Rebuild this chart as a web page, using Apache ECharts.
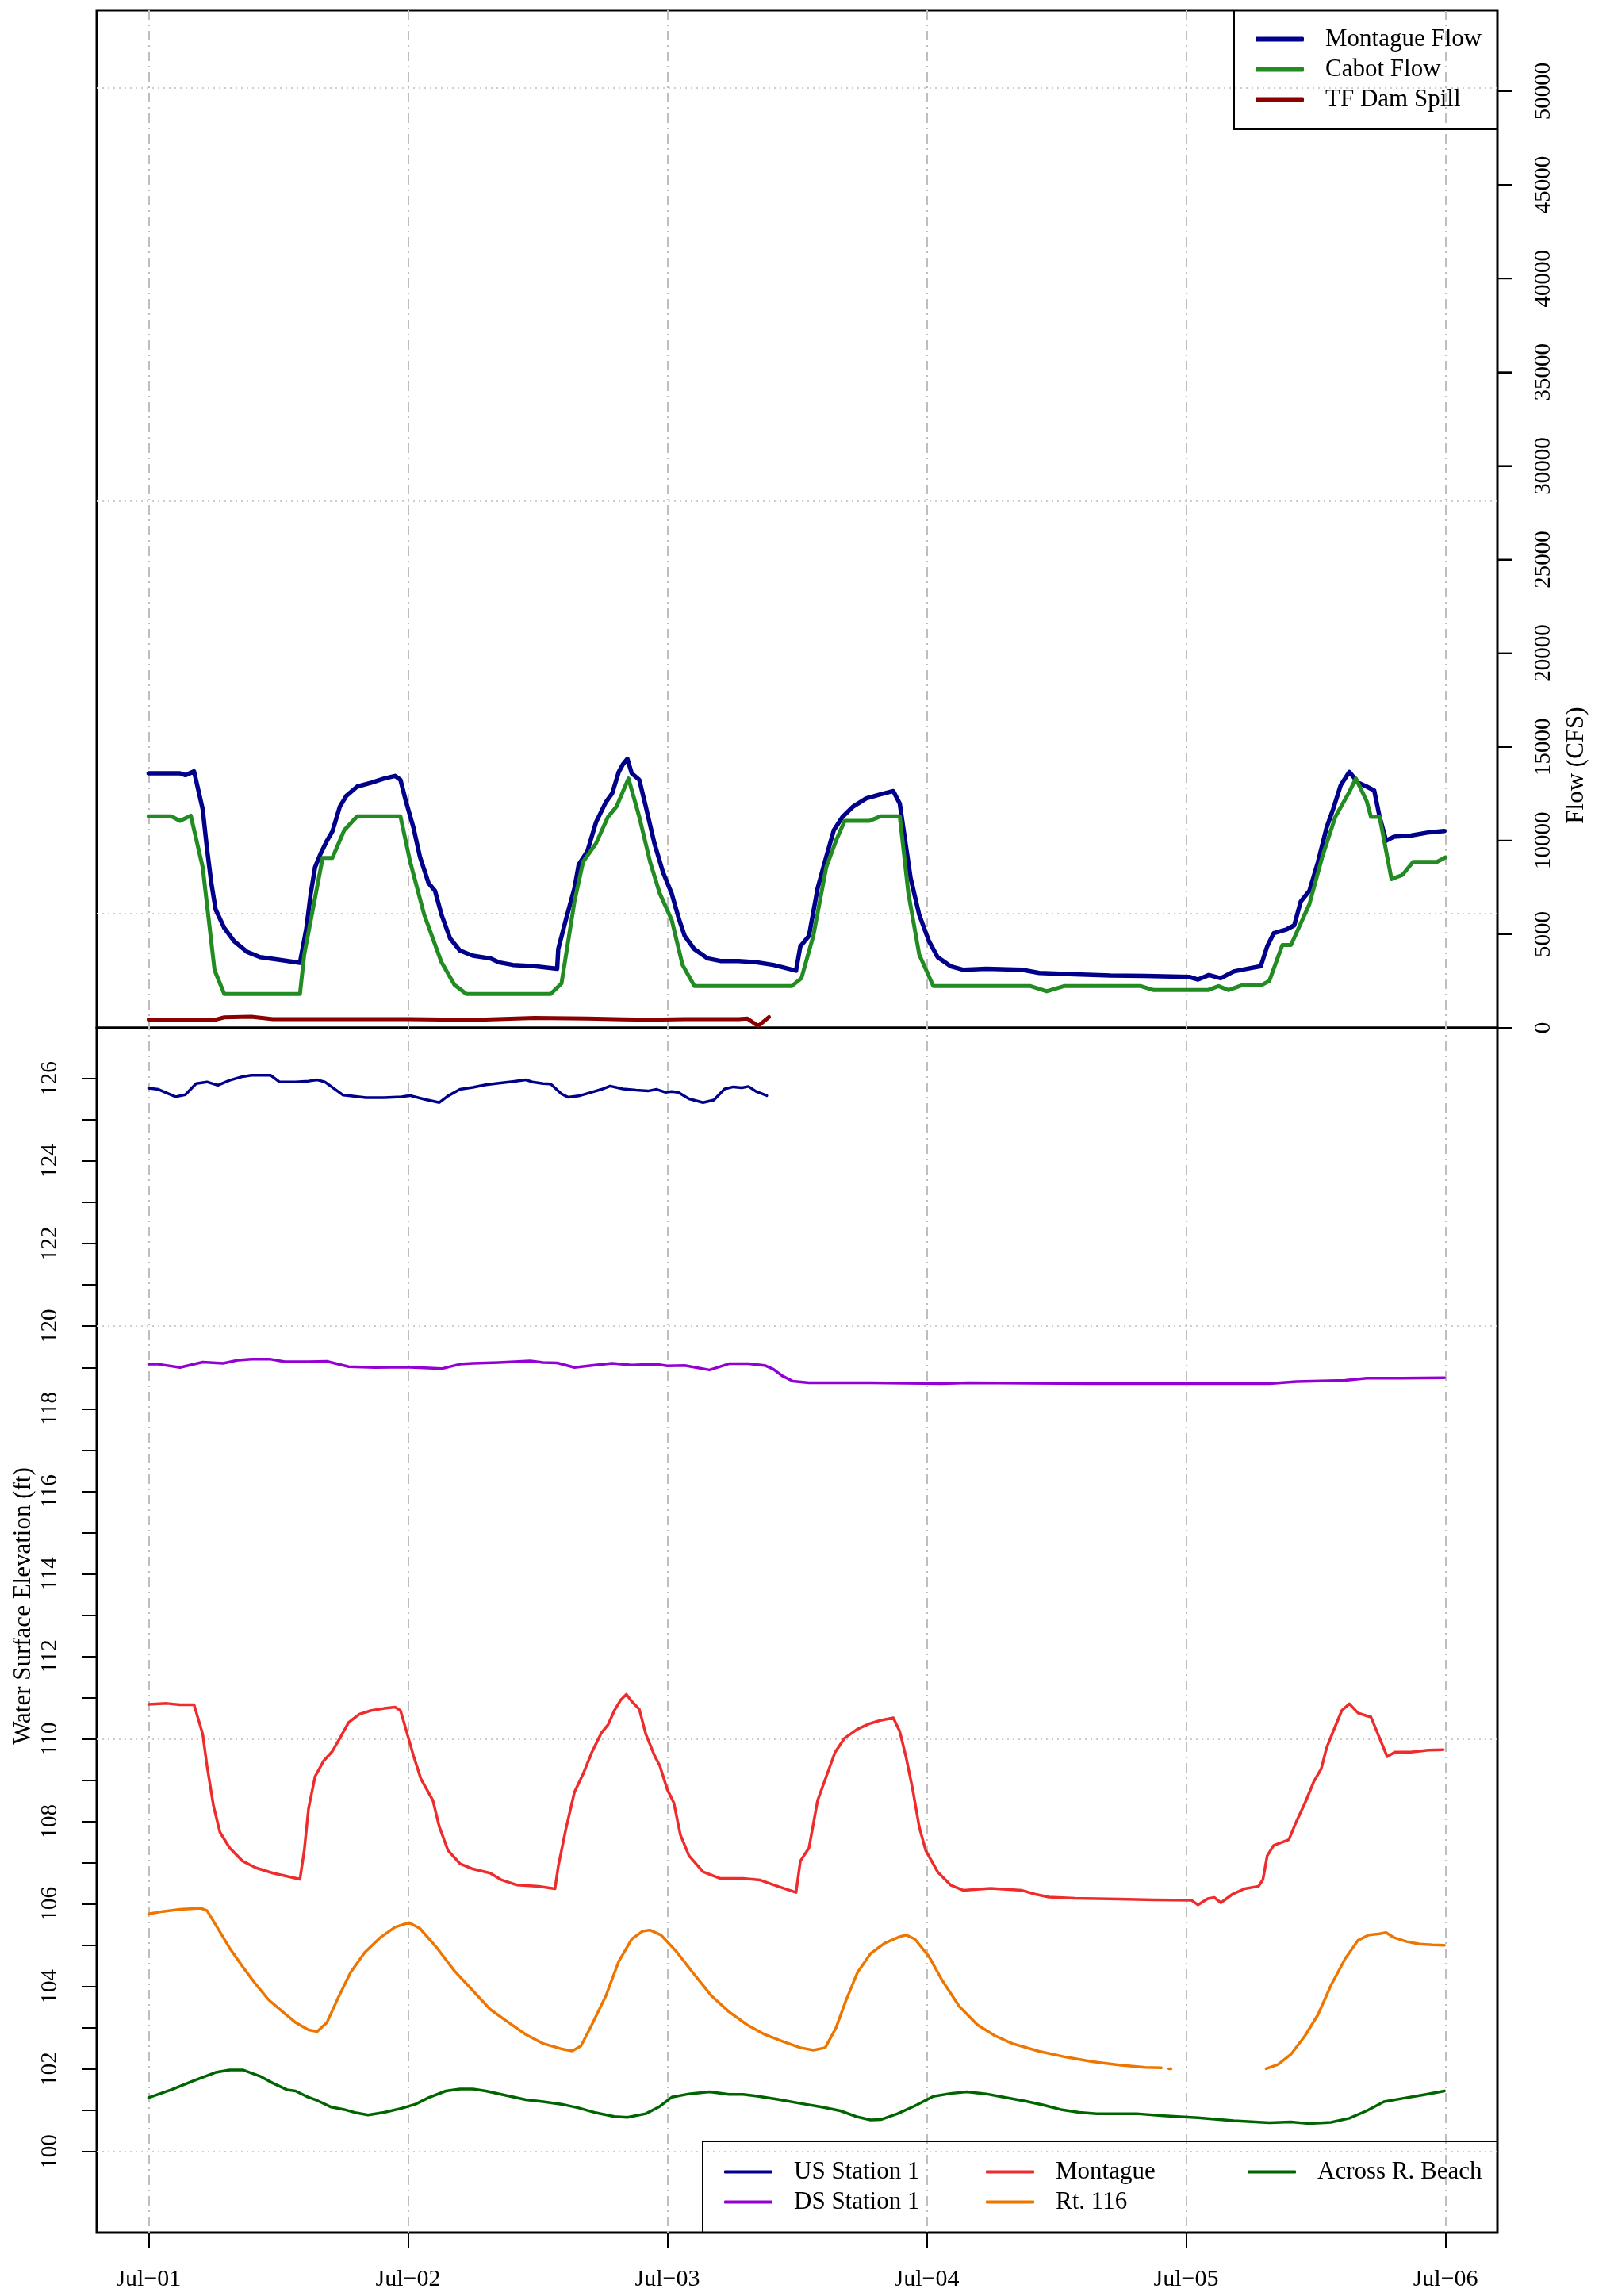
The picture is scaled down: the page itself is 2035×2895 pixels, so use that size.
<!DOCTYPE html>
<html>
<head>
<meta charset="utf-8">
<script src="https://cdn.jsdelivr.net/npm/echarts@6/dist/echarts.min.js"></script>
<style>
html,body{margin:0;padding:0;background:#fff;}
#chart{width:2035px;height:2895px;}
</style>
</head>
<body>
<div id="chart"></div>
<script>
// ---------------- DATA (hours since Jul-01 00:00, value) ----------------
const dayLabels = ['Jul\u221201','Jul\u221202','Jul\u221203','Jul\u221204','Jul\u221205','Jul\u221206'];
const flowTicks = [0,5000,10000,15000,20000,25000,30000,35000,40000,45000,50000];

const montagueFlow = [[0,13590],[2.9,13590],[3.4,13490],[4.2,13690],[5.0,11680],[5.4,9570],[5.8,7730],[6.2,6320],[7.0,5330],[7.9,4630],[9.1,4060],[10.3,3780],[12.0,3640],[14.0,3470],[14.6,5330],[15.0,7170],[15.4,8580],[15.9,9280],[16.5,9990],[17.0,10480],[17.7,11820],[18.3,12390],[19.3,12880],[20.6,13090],[21.8,13310],[22.8,13450],[23.3,13240],[23.8,12110],[24.5,10700],[25.1,9140],[25.9,7730],[26.5,7310],[27.1,6040],[27.9,4770],[28.8,4130],[30.0,3850],[31.6,3710],[32.4,3500],[33.7,3360],[35.7,3290],[37.8,3150],[37.9,4200],[38.6,5760],[39.4,7450],[39.8,8720],[40.6,9430],[41.4,10980],[42.3,12040],[42.9,12530],[43.5,13660],[43.9,14080],[44.3,14360],[44.7,13590],[45.4,13240],[46.0,11820],[46.8,9850],[47.6,8300],[48.4,7170],[49.1,5760],[49.6,4910],[50.5,4200],[51.7,3710],[52.9,3570],[54.6,3570],[56.2,3500],[57.8,3360],[59.9,3050],[60.3,4350],[61.1,4910],[61.9,7450],[62.7,9140],[63.4,10550],[64.2,11260],[65.2,11820],[66.4,12250],[67.7,12460],[68.9,12640],[69.5,11970],[70.0,9990],[70.5,8010],[71.3,6040],[72.2,4630],[73.0,3780],[74.2,3290],[75.4,3100],[77.5,3150],[80.8,3100],[82.4,2930],[85.7,2860],[89.0,2790],[92.2,2770],[96.3,2720],[97.1,2580],[98.1,2820],[99.2,2650],[100.4,3010],[101.6,3150],[102.9,3290],[103.5,4350],[104.1,5050],[105.3,5260],[106.0,5470],[106.6,6740],[107.4,7310],[108.2,8860],[109.0,10700],[109.6,11680],[110.3,12950],[111.1,13660],[111.9,13090],[112.7,12880],[113.4,12670],[113.9,11260],[114.5,9990],[115.2,10200],[116.8,10270],[118.5,10440],[119.9,10510]];

const cabotFlow = [[0,11290],[2.1,11290],[2.9,11050],[3.9,11330],[5.0,8580],[6.1,3080],[7.0,1810],[14.0,1810],[14.4,3920],[16.1,9070],[17.0,9070],[18.1,10550],[19.3,11290],[23.3,11290],[24.2,8860],[25.5,6040],[27.1,3500],[28.3,2300],[29.4,1810],[37.2,1810],[38.2,2370],[39.4,6740],[40.2,8860],[41.4,9850],[42.5,11260],[43.3,11820],[44.4,13310],[45.4,11260],[46.4,8860],[47.3,7170],[48.4,5760],[49.4,3360],[50.5,2230],[59.5,2230],[60.4,2650],[61.5,4910],[62.7,8580],[63.6,9990],[64.4,11050],[66.7,11050],[67.7,11290],[69.5,11290],[70.3,7170],[71.3,3920],[72.6,2230],[81.6,2230],[83.1,1950],[84.7,2230],[91.8,2230],[93.0,2020],[98.0,2020],[99.0,2230],[99.9,2020],[101.1,2260],[102.9,2260],[103.7,2510],[104.9,4420],[105.7,4420],[107.4,6600],[108.6,9140],[109.8,11260],[111.1,12600],[111.7,13310],[112.7,12110],[113.1,11260],[113.9,11260],[115.0,7940],[116.0,8160],[117.0,8860],[119.2,8860],[120.0,9100]];

const tfDamSpill = [[0,440],[6.2,440],[7.0,560],[9.5,590],[11.5,470],[24.2,470],[30.0,420],[35.7,530],[40.6,500],[43.9,450],[46.4,430],[49.6,470],[54.6,470],[55.4,500],[56.4,100],[57.4,580]];

const usStation1 = [[0,125.77],[0.9,125.74],[2.5,125.56],[3.4,125.61],[4.4,125.88],[5.4,125.92],[6.4,125.84],[7.5,125.96],[8.7,126.05],[9.5,126.08],[11.3,126.08],[12.1,125.92],[13.6,125.92],[14.8,125.94],[15.6,125.97],[16.3,125.92],[18.0,125.60],[18.7,125.58],[20.1,125.54],[21.8,125.54],[23.4,125.56],[24.2,125.59],[25.5,125.50],[26.9,125.42],[27.7,125.58],[28.8,125.74],[30.0,125.79],[31.2,125.85],[32.4,125.89],[33.7,125.93],[34.9,125.97],[35.5,125.92],[36.5,125.88],[37.2,125.87],[38.2,125.63],[38.8,125.55],[39.8,125.58],[41.0,125.67],[41.9,125.74],[42.7,125.82],[43.9,125.75],[45.1,125.72],[46.2,125.70],[47.0,125.74],[47.8,125.67],[48.4,125.69],[49.0,125.67],[50.0,125.51],[51.3,125.42],[52.3,125.48],[53.3,125.75],[54.1,125.80],[54.9,125.78],[55.5,125.81],[56.2,125.69],[57.2,125.59]];

const dsStation1 = [[0,119.08],[0.9,119.08],[2.9,119.00],[5.0,119.13],[6.9,119.10],[8.3,119.18],[9.5,119.20],[11.3,119.20],[12.6,119.14],[14.8,119.14],[16.5,119.15],[18.5,119.02],[21.0,119.00],[23.8,119.01],[25.5,118.99],[27.1,118.97],[28.8,119.08],[30.0,119.10],[32.4,119.12],[35.3,119.16],[36.5,119.12],[37.8,119.11],[39.4,119.00],[41.0,119.05],[42.9,119.10],[44.7,119.06],[47.0,119.08],[48.0,119.04],[49.6,119.05],[51.9,118.94],[53.7,119.09],[55.5,119.09],[57.0,119.05],[57.8,118.96],[58.6,118.80],[59.6,118.67],[61.1,118.63],[66.8,118.63],[73.4,118.61],[75.8,118.63],[87.3,118.61],[103.7,118.61],[106.2,118.66],[110.7,118.69],[112.7,118.74],[116.0,118.74],[119.9,118.75]];

const montagueElev = [[0,110.84],[1.7,110.86],[2.9,110.83],[4.2,110.83],[5.0,110.12],[5.4,109.35],[6.0,108.38],[6.6,107.74],[7.5,107.36],[8.7,107.04],[9.9,106.88],[11.5,106.75],[14.0,106.60],[14.4,107.30],[14.8,108.32],[15.4,109.09],[16.2,109.47],[17.0,109.70],[17.7,110.02],[18.5,110.40],[19.5,110.60],[20.6,110.69],[21.8,110.74],[22.8,110.77],[23.3,110.69],[23.8,110.24],[24.5,109.60],[25.2,109.03],[26.3,108.51],[26.9,107.87],[27.7,107.30],[28.8,106.98],[30.0,106.85],[31.6,106.75],[32.6,106.59],[34.1,106.46],[36.1,106.43],[37.6,106.37],[37.9,106.91],[38.6,107.81],[39.4,108.71],[40.2,109.15],[41.0,109.67],[41.9,110.15],[42.5,110.34],[43.1,110.69],[43.7,110.95],[44.2,111.08],[44.7,110.91],[45.4,110.72],[46.0,110.12],[46.8,109.60],[47.3,109.35],[48.0,108.77],[48.6,108.45],[49.2,107.68],[50.0,107.17],[51.3,106.78],[52.9,106.62],[55.0,106.62],[56.6,106.58],[58.2,106.43],[59.9,106.28],[60.3,107.04],[61.1,107.36],[61.9,108.51],[62.7,109.09],[63.5,109.67],[64.4,110.02],[65.6,110.24],[66.7,110.37],[67.7,110.45],[68.9,110.51],[69.5,110.18],[70.1,109.54],[70.7,108.77],[71.3,107.87],[71.9,107.30],[73.0,106.78],[74.2,106.46],[75.4,106.33],[77.9,106.38],[80.8,106.33],[82.0,106.24],[83.3,106.17],[85.7,106.14],[89.8,106.12],[93.0,106.10],[96.5,106.09],[97.1,105.98],[98.0,106.13],[98.6,106.16],[99.2,106.03],[100.3,106.24],[101.4,106.37],[102.7,106.43],[103.1,106.59],[103.5,107.17],[104.1,107.42],[105.5,107.56],[106.2,108.00],[107.0,108.45],[107.8,108.96],[108.5,109.28],[109.0,109.79],[109.6,110.18],[110.4,110.69],[111.1,110.85],[111.9,110.63],[112.7,110.56],[113.1,110.53],[113.9,110.02],[114.6,109.57],[115.3,109.68],[116.8,109.68],[118.4,109.73],[119.8,109.74]];

const rt116Elev = [[0,105.76],[1.3,105.82],[2.9,105.87],[4.8,105.90],[5.4,105.84],[6.2,105.50],[7.5,104.93],[8.7,104.48],[9.9,104.06],[11.1,103.68],[12.4,103.39],[13.6,103.13],[14.8,102.95],[15.6,102.91],[16.5,103.13],[17.5,103.71],[18.7,104.35],[20.0,104.83],[21.4,105.18],[22.8,105.44],[24.1,105.55],[25.1,105.41],[26.7,104.93],[28.3,104.38],[30.0,103.90],[31.6,103.45],[33.3,103.13],[34.9,102.84],[36.5,102.62],[38.2,102.49],[39.2,102.44],[40.0,102.56],[41.0,103.07],[42.3,103.77],[43.5,104.61],[44.7,105.15],[45.7,105.34],[46.4,105.37],[47.4,105.25],[48.8,104.86],[50.5,104.29],[52.1,103.77],[53.7,103.39],[55.4,103.07],[57.0,102.84],[58.6,102.68],[60.3,102.52],[61.5,102.46],[62.6,102.52],[63.6,103.00],[64.5,103.65],[65.6,104.35],[66.8,104.80],[68.1,105.05],[69.5,105.21],[70.1,105.25],[70.9,105.15],[72.2,104.73],[73.4,104.16],[75.0,103.52],[76.7,103.07],[78.3,102.81],[79.9,102.62],[82.4,102.43],[84.9,102.29],[87.3,102.18],[89.8,102.10],[92.2,102.04],[93.7,102.03],[94.0,null],[94.4,102.01],[94.6,102.01],[94.8,null],[103.4,102.01],[104.5,102.11],[105.7,102.36],[107.0,102.81],[108.2,103.32],[109.4,104.03],[110.7,104.67],[111.9,105.12],[112.9,105.25],[113.9,105.28],[114.5,105.31],[115.2,105.19],[116.4,105.09],[117.6,105.03],[118.8,105.01],[119.9,105.00]];

const beachElev = [[0,101.31],[2.1,101.50],[4.2,101.72],[6.2,101.92],[7.5,101.98],[8.7,101.98],[10.3,101.83],[11.5,101.66],[12.8,101.50],[13.6,101.47],[14.6,101.34],[15.6,101.24],[16.9,101.08],[18.1,101.02],[19.2,100.94],[20.3,100.89],[21.8,100.95],[23.4,101.05],[24.7,101.15],[25.9,101.31],[27.5,101.47],[28.8,101.52],[30.0,101.52],[31.2,101.47],[33.3,101.35],[34.9,101.26],[36.5,101.21],[38.2,101.15],[39.8,101.06],[41.4,100.94],[43.1,100.85],[44.3,100.83],[46.0,100.92],[47.2,101.08],[48.4,101.32],[50.0,101.40],[51.9,101.45],[53.7,101.39],[55.0,101.39],[56.2,101.35],[58.2,101.27],[60.3,101.17],[62.3,101.08],[64.0,100.99],[65.6,100.84],[66.8,100.77],[67.8,100.78],[69.3,100.92],[70.9,101.11],[72.6,101.34],[74.2,101.41],[75.7,101.45],[77.5,101.40],[79.1,101.32],[81.2,101.22],[82.8,101.13],[84.4,101.02],[86.1,100.95],[87.7,100.92],[89.4,100.92],[91.4,100.92],[93.9,100.87],[97.1,100.82],[100.4,100.75],[103.7,100.70],[105.7,100.72],[107.4,100.68],[109.4,100.71],[111.1,100.81],[112.7,100.99],[114.3,101.21],[116.0,101.29],[118.0,101.38],[119.9,101.47]];

// ---------------- LAYOUT ----------------
const FONT = "'Liberation Serif','Times New Roman',serif";
const plotLeft = 122, plotRight = 1888, plotTop = 13, plotMid = 1296, plotBottom = 2815;
const xMin = -4.8, xMax = 124.8;           // R-style 4% padding around 0..120 h
const flowMax = 54318;
const elevMin = 98.04, elevMax = 127.23;
const plotW = plotRight - plotLeft;
const xPx = h => plotLeft + (h - xMin) / (xMax - xMin) * plotW;
const elevPx = v => plotBottom - (v - elevMin) / (elevMax - elevMin) * (plotBottom - plotMid);
const flowPx = v => plotMid - v / flowMax * (plotMid - plotTop);

const chart = echarts.init(document.getElementById('chart'), null, {renderer:'canvas'});

const tickStyle = {color:'#000', width:2};
const labelBase = {color:'#000', fontFamily:FONT, fontSize:29};
const noLine = {show:false, onZero:false};
const TICK_LEN = 19;

function lineSeries(name, data, color, width, xi, yi) {
  return {
    name, type:'line', data, xAxisIndex:xi, yAxisIndex:yi,
    showSymbol:false, symbol:'none', connectNulls:false, silent:true,
    color, itemStyle:{color},
    lineStyle:{color, width, cap:'round', join:'round'},
    animation:false
  };
}

function flowTickY(v) {
  let y = null;
  try { y = chart.convertToPixel({yAxisIndex:0}, v); } catch (e) { y = null; }
  if (Array.isArray(y)) y = y[1];
  if (typeof y !== 'number' || !isFinite(y) || y < plotTop - 1 || y > plotMid + 1) y = flowPx(v);
  return y;
}

const baseGraphics = [
  {id:'legendBoxTop', type:'rect', shape:{x:1556, y:plotTop, width:plotRight-1556, height:150}, style:{fill:null, stroke:'#000', lineWidth:2}, z:10},
  {id:'legendBoxBottom', type:'rect', shape:{x:886, y:2700, width:plotRight-886, height:plotBottom-2700}, style:{fill:null, stroke:'#000', lineWidth:2}, z:10},
  {id:'titleLeft', type:'text', x:30, y:2025, rotation:Math.PI/2, style:{text:'Water Surface Elevation (ft)', fill:'#000', font:'31px ' + FONT, align:'center', verticalAlign:'middle'}},
  {id:'titleRight', type:'text', x:1988, y:965, rotation:Math.PI/2, style:{text:'Flow (CFS)', fill:'#000', font:'31px ' + FONT, align:'center', verticalAlign:'middle'}}
];

const option = {
  backgroundColor:'#fff',
  animation:false,
  grid:[
    {left:plotLeft, top:plotTop, width:plotW, height:plotMid-plotTop, show:true, borderColor:'#000', borderWidth:3, backgroundColor:'transparent', outerBoundsMode:'none'},
    {left:plotLeft, top:plotMid, width:plotW, height:plotBottom-plotMid, show:true, borderColor:'#000', borderWidth:3, backgroundColor:'transparent', outerBoundsMode:'none'},
    {left:xPx(0), top:plotTop, width:xPx(120)-xPx(0), height:plotBottom-plotTop, outerBoundsMode:'none'},
    {left:plotLeft, top:elevPx(150), width:plotW, height:elevPx(100)-elevPx(150), outerBoundsMode:'none'},
    {left:plotLeft, top:elevPx(126), width:plotW, height:elevPx(100)-elevPx(126), outerBoundsMode:'none'},
    {left:plotLeft, top:flowPx(50000), width:plotW, height:flowPx(0)-flowPx(50000), outerBoundsMode:'none'}
  ],
  xAxis:[
    {gridIndex:0, type:'value', min:xMin, max:xMax, show:false, axisLine:noLine},
    {gridIndex:1, type:'value', min:xMin, max:xMax, show:false, axisLine:noLine},
    {gridIndex:2, type:'value', min:0, max:120, interval:24, position:'bottom',
      axisLine:noLine,
      axisTick:{show:true, inside:false, length:TICK_LEN, lineStyle:tickStyle},
      axisLabel:Object.assign({}, labelBase, {fontSize:30, margin:44, formatter:v => dayLabels[Math.round(v/24)]}),
      splitLine:{show:true, lineStyle:{color:'#BEBEBE', width:2, type:[12,6,2,6]}}},
    {gridIndex:3, type:'value', min:1, max:2, show:false, axisLine:noLine},
    {gridIndex:4, type:'value', min:0, max:1, show:false, axisLine:noLine},
    {gridIndex:5, type:'value', min:1, max:2, show:false}
  ],
  yAxis:[
    {gridIndex:0, type:'value', min:0, max:flowMax, show:false, axisLine:noLine},
    {gridIndex:1, type:'value', min:elevMin, max:elevMax, show:false, axisLine:noLine},
    {gridIndex:2, type:'value', min:0, max:1, show:false, axisLine:noLine},
    {gridIndex:3, type:'value', min:100, max:150, interval:10,
      axisLine:noLine, axisTick:{show:false}, axisLabel:{show:false},
      splitLine:{show:true, lineStyle:{color:'#CDCDCD', width:2, type:[2,5]}}},
    {gridIndex:4, type:'value', position:'left', min:100, max:126, interval:1,
      axisLine:noLine,
      axisTick:{show:true, inside:false, length:TICK_LEN, lineStyle:tickStyle},
      axisLabel:Object.assign({}, labelBase, {rotate:90, margin:44, formatter:v => (Math.round(v) % 2 === 0 ? String(Math.round(v)) : '')}),
      splitLine:{show:false}},
    {gridIndex:5, type:'value', position:'right', min:flowTicks[0], max:flowTicks[flowTicks.length-1], interval:flowTicks[1]-flowTicks[0],
      axisLine:{show:false},
      axisTick:{show:true, inside:false, length:TICK_LEN, lineStyle:tickStyle},
      axisLabel:Object.assign({}, labelBase, {rotate:90, margin:44, formatter:v => String(v)}),
      splitLine:{show:false}}
  ],
  legend:[
    {data:['Montague Flow','Cabot Flow','TF Dam Spill'], orient:'vertical', left:1583, top:34, padding:0,
      itemWidth:61, itemHeight:6, itemGap:7, icon:'roundRect', selectedMode:false,
      textStyle:{color:'#000', fontFamily:FONT, fontSize:31, lineHeight:31, padding:[0,0,0,22]}},
    {data:['US Station 1','DS Station 1'], orient:'vertical', left:913, top:2723, padding:0,
      itemWidth:61, itemHeight:4, itemGap:7, icon:'roundRect', selectedMode:false,
      textStyle:{color:'#000', fontFamily:FONT, fontSize:31, lineHeight:31, padding:[0,0,0,22]}},
    {data:['Montague','Rt. 116'], orient:'vertical', left:1243, top:2723, padding:0,
      itemWidth:61, itemHeight:4, itemGap:7, icon:'roundRect', selectedMode:false,
      textStyle:{color:'#000', fontFamily:FONT, fontSize:31, lineHeight:31, padding:[0,0,0,22]}},
    {data:['Across R. Beach'], orient:'vertical', left:1573, top:2723, padding:0,
      itemWidth:61, itemHeight:4, itemGap:7, icon:'roundRect', selectedMode:false,
      textStyle:{color:'#000', fontFamily:FONT, fontSize:31, lineHeight:31, padding:[0,0,0,22]}}
  ],
  graphic:baseGraphics,
  series:[
    lineSeries('Montague Flow', montagueFlow, '#00008B', 5.5, 0, 0),
    lineSeries('Cabot Flow', cabotFlow, '#228B22', 5, 0, 0),
    lineSeries('TF Dam Spill', tfDamSpill, '#8B0000', 5, 0, 0),
    lineSeries('US Station 1', usStation1, '#00008B', 3.5, 1, 1),
    lineSeries('DS Station 1', dsStation1, '#9400D3', 3.5, 1, 1),
    lineSeries('Montague', montagueElev, '#EE2C2C', 3.5, 1, 1),
    lineSeries('Rt. 116', rt116Elev, '#EE7600', 3.5, 1, 1),
    lineSeries('Across R. Beach', beachElev, '#006400', 3.5, 1, 1)
  ]
};
chart.setOption(option);

// Right-hand flow tick marks as thin filled rects on their own top layer
const flowTickGraphics = flowTicks.map((v, i) => {
  const y = flowTickY(v);
  return {id:'flowTick' + i, type:'rect', shape:{x:plotRight, y:y - 1, width:TICK_LEN, height:2},
          style:{fill:'#000', stroke:null}, z:100, zlevel:1};
});
chart.setOption({graphic: baseGraphics.concat(flowTickGraphics)});
</script>
</body>
</html>
